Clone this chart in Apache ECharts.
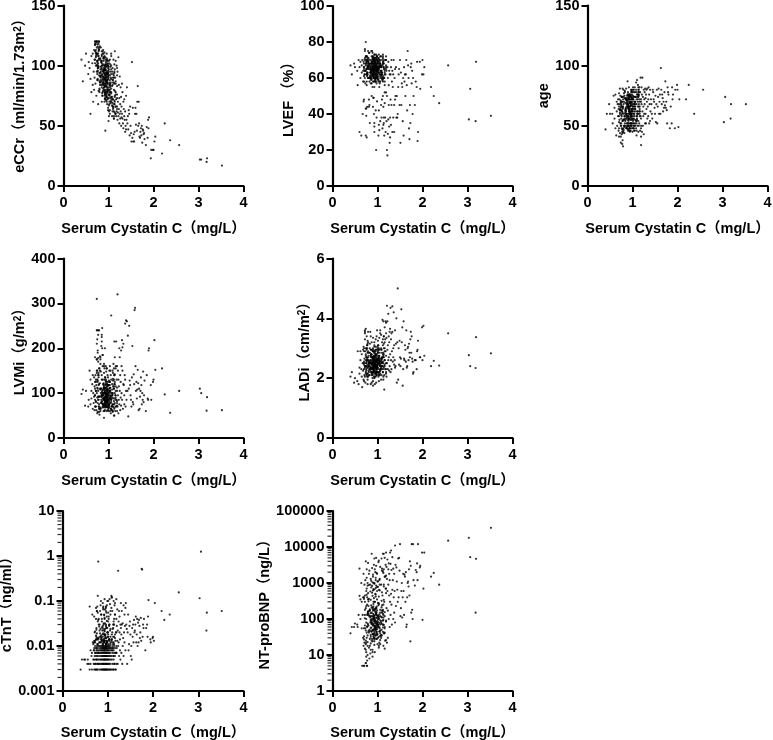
<!DOCTYPE html>
<html><head><meta charset="utf-8">
<script src="https://cdn.jsdelivr.net/npm/echarts@6/dist/echarts.min.js"></script>
<style>html,body{margin:0;padding:0;background:#fff}#c{width:773px;height:740px}</style></head>
<body><div id="c"></div>
<script>
const cystatin=[
3.52,3.19,3.18,3.06,3.03,2.57,2.37,2.25,2.19,2.04,2.02,2.00,1.99,1.95,1.94,1.90,1.89,1.88,1.87,1.85,
1.83,1.80,1.79,1.78,1.77,1.76,1.75,1.74,1.73,1.72,1.71,1.70,1.69,1.68,1.67,1.66,1.65,1.64,1.63,1.62,
1.61,1.60,1.59,1.58,1.57,1.56,1.55,1.54,1.53,1.52,1.51,1.50,1.49,1.48,1.47,1.46,1.45,1.44,1.43,1.42,
1.41,1.40,1.39,1.39,1.38,1.37,1.37,1.36,1.35,1.35,1.34,1.33,1.33,1.32,1.31,1.31,1.30,1.30,1.29,1.29,
1.28,1.28,1.27,1.27,1.26,1.26,1.25,1.25,1.24,1.24,1.23,1.23,1.22,1.22,1.21,1.21,1.20,1.20,1.19,1.19,
1.18,1.18,1.17,1.17,1.16,1.16,1.15,1.15,1.14,1.14,1.13,1.13,1.12,1.12,1.11,1.11,1.10,1.10,1.09,1.09,
.40,.43,.48,.50,.55,.56,.58,.60,.60,.62,.62,.64,.65,.65,.66,.67,.68,.68,.69,.69,
.70,.70,.71,.71,.72,.72,.73,.73,.74,.74,.75,.75,.76,.76,.77,.77,.78,.78,.79,.79,
1.16,1.12,1.08,1.06,1.04,1.02,1.00,.98,.97,.96,.94,.93,.92,.90,.89,.87,.85,.82,.78,.74,
1.19,1.14,1.10,1.05,1.03,1.01,.99,.97,.96,.95,.93,.91,.90,.88,.86,.84,.81,.79,.76,.72,
1.13,1.09,1.06,1.03,1.01,.99,.98,.96,.94,.93,.92,.91,.89,.87,.85,.83,.80,.77,.75,.70,
1.16,1.12,1.08,1.06,1.04,1.02,1.00,.98,.97,.96,.94,.93,.92,.90,.89,.87,.85,.82,.78,.74,
1.19,1.14,1.10,1.05,1.03,1.01,.99,.97,.96,.95,.93,.91,.90,.88,.86,.84,.81,.79,.76,.72,
1.13,1.09,1.06,1.03,1.01,.99,.98,.96,.94,.93,.92,.91,.89,.87,.85,.83,.80,.77,.75,.70,
1.16,1.12,1.08,1.06,1.04,1.02,1.00,.98,.97,.96,.94,.93,.92,.90,.89,.87,.85,.82,.78,.74,
1.19,1.14,1.10,1.05,1.03,1.01,.99,.97,.96,.95,.93,.91,.90,.88,.86,.84,.81,.79,.76,.72,
1.13,1.09,1.06,1.03,1.01,.99,.98,.96,.94,.93,.92,.91,.89,.87,.85,.83,.80,.77,.75,.70,
1.16,1.12,1.08,1.06,1.04,1.02,1.00,.98,.97,.96,.94,.93,.92,.90,.89,.87,.85,.82,.78,.74,
1.19,1.14,1.10,1.05,1.03,1.01,.99,.97,.96,.95,.93,.91,.90,.88,.86,.84,.81,.79,.76,.72,
1.13,1.09,1.06,1.03,1.01,.99,.98,.96,.94,.93,.92,.91,.89,.87,.85,.83,.80,.77,.75,.70,
1.16,1.12,1.08,1.06,1.04,1.02,1.00,.98,.97,.96,.94,.93,.92,.90,.89,.87,.85,.82,.78,.74,
1.19,1.14,1.10,1.05,1.03,1.01,.99,.97,.96,.95,.93,.91,.90,.88,.86,.84,.81,.79,.76,.72,
1.13,1.09,1.06,1.03,1.01,.99,.98,.96,.94,.93,.92,.91,.89,.87,.85,.83,.80,.77,.75,.70,
1.16,1.12,1.08,1.06,1.04,1.02,1.00,.98,.97,.96,.94,.93,.92,.90,.89,.87,.85,.82,.78,.74];
const eCCr=[
17,23,20,22,22,34,38,52,27,41,37,30,30,30,23,57,48,55,40,49,
34,39,44,43,46,47,36,50,42,48,45,40,41,52,70,50,83,70,46,60,
51,65,60,45,37,43,37,65,40,103,37,44,50,66,42,60,63,47,58,52,
82,55,47,75,50,62,45,55,72,58,64,48,70,52,78,56,60,85,66,57,
74,50,62,82,56,68,91,60,73,52,84,64,58,107,70,61,95,55,76,66,
62,100,72,58,85,66,90,60,112,74,68,95,56,80,65,105,72,88,62,98,
105,87,100,110,93,103,98,60,89,108,78,102,84,110,70,95,113,80,105,90,
105,112,85,118,100,108,75,120,95,110,120,88,104,116,68,98,112,79,120,92,
78,62,95,70,101,84,92,73,105,88,96,80,100,85,110,91,104,97,108,115,
92,70,66,86,78,104,65,93,82,99,77,108,88,95,75,103,84,113,95,120,
68,88,100,76,58,94,85,110,72,90,83,98,106,78,92,115,87,100,118,102,
104,58,83,74,95,68,90,101,79,93,87,46,97,82,106,89,112,91,99,120,
73,97,64,90,82,76,98,87,94,74,107,89,80,101,93,84,105,120,88,110,
85,66,78,60,97,89,72,83,103,91,78,96,86,110,70,99,94,108,101,117,
60,92,72,108,85,70,95,78,88,100,92,83,76,97,90,112,100,86,120,104,
98,75,86,69,92,80,63,102,90,76,85,111,94,81,100,87,116,106,96,113,
71,84,110,80,67,100,88,75,93,85,97,70,104,91,82,95,78,110,103,120,
87,56,74,93,78,86,99,81,68,104,90,88,73,107,96,85,102,94,118,100,
64,79,90,71,105,73,82,94,86,78,101,92,98,79,88,103,91,113,89,107,
101,69,77,84,62,91,104,70,97,83,75,89,95,86,109,92,80,99,110,118,
76,90,67,97,83,75,54,91,80,106,87,94,72,100,84,96,108,88,105,120,
83,61,93,73,88,102,79,86,95,71,99,82,90,113,77,104,86,115,98,111,
94,72,81,63,76,96,85,74,101,89,77,93,107,84,98,90,81,102,93,120,
66,86,58,89,99,80,93,100,77,92,84,105,79,96,87,75,97,106,114,109];
const LVEF=[
39,69,36,54,37,67,46,50,55,66,62,70,62,54,69,30,25,69,55,58,
45,50,60,40,64,57,68,66,35,45,26,32,60,67,75,42,56,70,62,50,
62,58,66,28,60,36,55,57,45,63,24,70,45,65,62,55,40,38,50,38,
66,50,48,65,60,45,30,70,38,62,55,64,30,58,45,70,34,66,62,48,
38,27,62,24,64,33,56,45,69,37,60,29,17,66,50,20,36,64,70,52,
30,62,70,38,65,52,28,60,68,35,44,66,72,58,32,67,48,63,38,62,
67,62,68,66,64,56,70,30,66,60,69,28,63,67,70,40,64,58,69,47,
66,68,62,70,75,60,64,57,67,43,72,65,69,56,62,44,70,66,75,60,
62,68,45,64,70,59,66,72,61,67,63,69,58,65,71,60,66,74,62,64,
66,60,70,57,65,68,61,73,64,67,55,62,69,75,63,66,60,68,65,71,
69,63,58,66,61,72,67,60,65,70,62,49,68,64,59,67,71,63,43,66,
58,71,64,60,68,63,70,57,66,62,73,65,61,68,55,69,64,60,67,72,
72,65,60,69,34,66,62,68,59,64,71,67,61,65,70,63,48,69,58,64,
61,67,70,63,59,65,38,71,68,60,66,62,74,64,57,70,67,61,72,65,
64,59,66,72,62,28,68,64,70,58,65,73,60,67,63,69,61,45,66,70,
67,70,62,58,73,64,60,66,62,69,30,63,71,65,68,60,74,66,62,76,
34,62,68,65,60,70,63,58,67,71,64,60,66,50,62,68,65,72,39,61,
63,50,72,61,66,58,69,65,62,68,60,35,64,70,66,59,63,67,71,28,
70,66,59,67,63,71,64,20,69,61,65,72,58,62,68,65,44,60,70,64,
60,64,67,42,69,62,66,70,60,33,68,64,72,57,65,61,69,63,68,48,
46,69,63,68,55,67,60,64,71,65,59,66,40,70,62,67,64,58,65,80,
65,38,60,66,70,64,72,62,67,60,69,49,65,61,75,63,68,70,27,62,
68,61,36,71,65,47,63,67,58,66,62,70,64,68,60,35,66,62,69,58,
56,73,66,62,31,69,65,60,68,42,67,63,70,44,66,72,60,65,63,68];
const age=[
68,68,56,74,53,80,60,84,72,72,49,80,84,80,48,76,72,82,52,66,
48,76,78,82,52,63,70,65,87,67,78,65,70,62,73,76,68,80,98,60,
76,70,60,81,74,66,52,80,68,53,75,60,65,70,72,78,80,56,60,68,
72,62,80,54,68,76,52,82,58,72,66,81,56,70,64,80,52,76,60,73,
81,52,68,78,60,72,43,80,58,66,74,50,90,62,76,45,68,82,41,72,
90,58,78,46,70,62,82,52,75,66,45,80,60,72,50,76,88,55,68,42,
47,60,68,60,60,52,75,56,65,48,76,42,70,62,50,68,58,72,46,64,
66,48,72,55,61,44,75,52,68,41,63,50,70,58,47,74,81,54,65,45,
72,60,78,55,68,50,64,74,58,70,48,66,62,76,52,60,72,56,44,65,
56,80,62,70,46,66,78,58,72,52,64,68,50,75,60,54,70,48,62,81,
82,52,70,60,75,62,48,68,56,74,66,50,72,58,64,78,46,60,67,41,
64,74,86,50,58,72,66,55,80,60,46,70,63,52,76,57,65,49,38,71,
48,68,60,78,64,54,73,62,50,69,76,58,66,48,72,61,55,33,74,63,
76,58,66,80,52,70,60,75,45,64,56,72,50,68,62,79,47,66,59,53,
60,84,54,64,74,48,68,52,78,57,70,62,75,46,55,66,73,50,61,69,
70,50,76,46,62,80,56,72,60,66,50,74,58,69,48,63,77,55,43,64,
54,72,64,68,58,76,50,60,70,48,82,56,65,71,60,52,74,35,66,58,
66,62,48,74,70,55,64,79,52,67,61,46,73,57,68,49,62,75,54,70,
34,78,58,66,52,72,62,50,76,58,69,64,47,70,81,55,60,72,48,63,
78,46,70,56,82,60,67,74,48,62,72,54,66,59,50,73,68,45,56,77,
62,66,74,52,60,78,45,64,70,55,60,76,52,67,87,48,72,58,64,50,
50,76,56,82,66,48,72,58,62,75,48,65,60,73,56,69,50,66,74,60,
74,54,68,48,72,62,80,52,66,60,76,50,71,48,64,58,80,62,52,68,
58,70,80,62,50,74,56,69,64,46,60,72,55,78,67,52,63,44,70,36];
const LVMi=[
62,91,61,100,110,105,56,97,155,152,218,130,125,85,118,200,195,85,88,140,
60,128,95,80,148,85,100,75,118,135,105,92,65,110,62,122,152,108,88,125,
105,160,290,285,120,142,75,80,205,135,70,85,95,118,128,250,110,48,228,105,
260,85,262,105,70,130,255,140,75,95,118,210,120,65,202,150,85,218,100,160,
195,72,125,90,62,140,180,105,75,200,115,85,130,55,150,95,320,70,112,160,
85,130,215,70,105,155,60,95,180,120,75,140,50,110,88,165,70,128,100,150,
98,108,72,105,70,85,150,130,75,105,88,120,65,140,100,78,135,92,62,115,
95,125,70,140,105,80,118,62,150,175,90,130,58,110,178,85,140,240,75,120,
95,110,72,130,88,105,65,118,92,80,125,100,75,115,85,160,95,108,70,145,
60,88,145,78,112,95,125,70,100,84,135,90,110,75,105,92,150,65,128,82,
120,75,273,160,68,108,85,115,74,95,102,60,88,130,78,100,92,140,55,110,
85,130,62,92,105,75,118,88,98,155,70,110,82,100,122,68,95,175,118,240,
72,100,115,65,90,128,78,105,84,112,92,155,72,108,96,85,182,70,195,130,
140,58,85,125,75,98,110,82,160,68,102,88,118,76,92,148,65,105,220,85,
90,115,70,100,150,82,95,62,108,125,78,98,200,85,112,70,130,165,92,175,
105,78,132,55,88,118,74,100,90,148,84,110,68,96,245,80,122,58,190,105,
65,96,85,110,72,135,105,78,92,120,62,88,100,75,140,110,52,230,150,70,
160,82,120,70,102,90,60,115,80,98,128,72,105,160,88,185,95,68,135,210,
78,142,60,94,118,72,86,108,155,76,100,90,45,120,82,205,110,240,78,125,
50,100,88,125,68,82,140,95,70,112,86,130,75,102,225,65,155,92,112,180,
115,68,108,80,95,150,75,85,104,60,92,118,82,145,72,98,215,180,85,310,
82,125,75,140,60,100,92,120,72,88,106,78,165,94,200,110,66,155,125,70,
215,90,65,105,85,118,70,96,130,82,74,112,60,185,102,78,92,170,240,95,
70,155,95,62,112,78,102,88,68,120,98,80,135,72,108,88,230,60,145,100];
const LADi=[
2.83,3.37,2.34,2.40,2.77,3.50,2.42,2.58,2.40,2.75,3.75,2.60,3.70,2.70,2.70,3.25,2.95,2.90,2.30,2.60,
2.6,2.2,2.15,2.55,2.65,3.4,2.85,3.55,3.3,2.7,2.85,3.15,2.6,3.05,3.0,2.4,2.35,3.6,2.55,2.95,
3.1,2.6,2.65,3.9,2.3,1.75,3.7,3.2,4.3,2.65,2.4,2.7,3.25,2.45,3.0,1.95,5.0,3.2,1.85,4.0,
3.15,2.4,2.35,3.6,2.6,3.1,2.45,4.2,2.7,3.0,2.55,3.55,4.4,2.9,3.5,2.3,3.3,2.6,4.35,2.2,
3.65,2.8,2.4,3.55,3.2,2.25,3.4,2.7,4.15,2.6,3.1,2.3,3.9,2.95,4.42,2.5,3.35,2.05,3.85,2.75,
2.9,3.9,2.3,3.3,2.6,3.0,2.1,1.62,3.4,2.8,2.5,3.9,3.1,2.2,2.7,3.95,2.4,3.2,2.95,2.65,
2.05,2.2,1.85,2.0,1.9,2.9,1.8,2.35,2.15,2.9,2.6,2.3,2.05,2.8,1.7,2.5,2.95,2.25,3.05,1.95,
2.3,3.0,2.65,2.1,3.55,2.4,1.85,2.9,3.65,2.2,2.7,2.5,3.4,2.95,2.05,3.1,1.8,2.6,2.35,3.2,
2.6,2.3,3.0,2.45,2.2,2.7,2.5,2.35,2.8,2.15,2.55,2.4,2.65,2.9,2.3,2.5,2.75,2.1,2.45,2.6,
2.2,2.7,2.4,2.85,2.55,2.3,2.65,2.95,2.05,2.45,2.7,2.25,2.5,2.35,2.8,2.6,2.2,2.9,2.4,2.05,
2.75,2.5,2.15,2.6,3.1,2.4,2.2,2.55,2.7,2.9,2.35,2.6,2.1,2.45,2.75,2.3,2.55,2.35,3.0,2.5,
2.4,3.3,2.6,2.25,2.75,2.5,3.0,2.1,2.4,2.6,2.85,2.0,2.55,2.7,2.45,2.2,2.95,2.5,1.95,2.8,
3.5,2.35,2.85,2.55,2.1,2.65,2.45,2.7,2.3,2.5,2.15,2.75,2.4,2.95,2.6,2.35,2.1,2.7,2.55,3.3,
2.05,2.65,2.3,2.95,2.5,2.2,2.8,2.4,2.6,3.2,2.45,2.3,2.7,2.15,2.55,2.85,2.4,3.1,2.25,1.9,
2.9,2.2,3.45,2.4,2.7,3.1,2.35,2.55,2.15,2.75,2.5,2.9,2.25,2.6,2.0,2.45,2.7,2.3,2.85,2.15,
2.5,3.0,2.7,2.1,2.45,2.85,2.6,2.2,2.95,2.35,2.05,2.65,3.35,2.5,2.8,2.25,2.4,3.55,2.6,2.35,
1.95,2.55,2.25,2.75,3.25,2.4,2.1,2.65,2.5,2.2,2.85,2.45,2.7,1.85,2.35,3.0,2.6,2.15,2.5,2.9,
3.7,2.4,2.95,2.3,2.6,2.15,2.75,3.4,2.35,2.55,2.25,3.05,2.45,2.65,2.2,2.8,1.8,2.55,3.25,2.4,
2.3,3.15,2.5,2.65,1.9,2.9,2.4,2.15,2.6,2.8,2.35,2.55,1.75,2.7,2.95,2.3,2.5,2.85,2.1,3.5,
2.7,2.1,3.6,2.2,2.85,2.55,2.3,3.05,2.45,2.7,2.6,2.2,2.9,2.35,2.5,3.15,2.25,2.65,3.0,2.45,
3.2,2.55,2.35,3.5,2.45,2.05,2.95,2.6,2.2,3.3,2.5,2.75,2.4,1.9,2.65,2.3,3.4,2.5,2.15,2.75,
2.15,3.4,2.65,2.5,2.95,2.35,2.6,1.85,2.8,2.4,3.1,2.3,2.55,2.7,2.2,3.55,2.45,2.05,2.7,3.6,
2.85,2.3,2.55,3.0,2.2,3.6,2.45,2.75,2.35,2.05,2.6,2.95,2.15,3.2,2.5,2.4,2.75,3.0,2.3,2.55,
2.45,2.8,1.95,2.4,3.35,2.65,3.05,2.25,2.55,2.9,1.8,2.45,2.6,3.0,2.35,2.1,2.55,2.85,3.15,2.4];
const cTnT=[
.06,.055,.022,1.25,.115,.155,.05,.038,.06,.09,.013,.016,.015,.012,.014,.105,.045,.016,.03,.025,
.008,.04,.025,.03,.016,.5,.52,.013,.042,.02,.015,.028,.038,.012,.033,.01,.04,.018,.012,.045,
.03,.022,.02,.038,.012,.03,.016,.025,.005,.01,.006,.018,.035,.028,.011,.008,.05,.02,.004,.024,
.03,.09,.07,.008,.028,.05,.012,.02,.006,.08,.015,.032,.01,.004,.03,.06,.018,.007,.09,.025,
.005,.03,.014,.008,.045,.02,.006,.06,.012,.035,.47,.01,.004,.022,.065,.013,.009,.028,.007,.04,
.003,.02,.013,.007,.05,.018,.004,.08,.011,.03,.006,.1,.016,.003,.009,.024,.06,.008,.12,.014,
.003,.005,.005,.005,.004,.005,.004,.003,.075,.004,.008,.006,.003,.007,.05,.012,.005,.011,.004,.008,
.003,.009,.006,.02,.004,.012,.003,.007,.04,.005,.016,.009,.003,.06,.006,.014,.004,.13,.007,.75,
.003,.003,.003,.003,.003,.003,.003,.003,.003,.003,.003,.003,.003,.003,.003,.003,.003,.003,.003,.003,
.004,.004,.004,.004,.004,.004,.004,.004,.004,.004,.004,.004,.004,.004,.004,.004,.004,.004,.004,.004,
.005,.005,.005,.005,.005,.005,.005,.005,.005,.005,.005,.005,.005,.005,.005,.005,.005,.005,.005,.005,
.006,.006,.006,.006,.006,.006,.006,.006,.006,.006,.006,.006,.006,.006,.006,.006,.006,.006,.006,.006,
.007,.007,.007,.007,.007,.007,.007,.007,.007,.007,.007,.007,.007,.007,.007,.007,.007,.007,.007,.007,
.008,.008,.008,.008,.008,.008,.008,.008,.008,.008,.008,.008,.008,.008,.008,.008,.008,.008,.008,.008,
.009,.009,.009,.009,.009,.009,.009,.009,.009,.009,.009,.009,.009,.009,.009,.009,.009,.009,.009,.009,
.01,.01,.01,.01,.01,.01,.01,.01,.01,.01,.01,.01,.01,.01,.01,.01,.01,.01,.01,.01,
.012,.014,.011,.013,.016,.012,.011,.015,.013,.018,.012,.014,.011,.013,.017,.012,.015,.011,.014,.013,
.015,.011,.013,.012,.014,.011,.016,.012,.013,.011,.015,.012,.014,.019,.011,.013,.012,.016,.011,.014,
.02,.016,.012,.022,.014,.018,.013,.025,.011,.016,.021,.013,.012,.018,.015,.024,.012,.014,.019,.013,
.03,.018,.024,.014,.035,.02,.012,.028,.017,.022,.013,.032,.016,.026,.014,.019,.04,.015,.023,.012,
.05,.025,.07,.016,.03,.045,.02,.036,.015,.06,.024,.04,.018,.075,.028,.014,.05,.022,.035,.017,
.11,.04,.02,.085,.03,.055,.1,.026,.07,.018,.042,.03,.065,.022,.05,.08,.027,.038,.06,.021,
.035,.12,.06,.028,.1,.025,.045,.075,.032,.11,.05,.023,.09,.035,.016,.06,.03,.075,.025,.045,
.09,.03,.13,.05,.11,.04,.02,.08,.055,.03,.065,.018,.048,.07,.025,.04,.1,.03,.055,.07];
const NTproBNP=[
34000,4700,150,5200,18000,15000,900,1900,1500,7000,700,95,7000,3000,2700,12000,1200,3500,2000,2300,
850,1200,12000,100,180,12000,150,3000,24,4000,450,2400,800,1100,1000,400,70,60,2000,300,
1500,1700,130,600,1800,400,110,1000,600,200,120,12000,2200,5000,400,4800,300,650,1100,2700,
230,3200,11000,80,600,1800,150,400,2500,100,1200,650,5200,70,250,2300,500,8000,130,3400,
300,7000,1200,60,450,1800,3500,100,900,2400,170,30,600,4500,1300,22,200,2800,90,7000,
700,3200,25,1500,120,5000,300,40,2400,900,18,1900,180,6500,70,450,2200,110,4800,35,
40,60,60,75,70,60,130,440,2500,100,350,1000,55,300,5,130,400,30,1800,18,
5,400,22,900,130,15,1200,55,200,14,600,80,2400,30,250,5,1000,18,350,70,
60,90,35,150,45,110,70,28,130,55,85,40,180,65,100,25,120,50,75,20,
85,40,170,55,100,30,75,140,48,95,65,220,38,120,58,80,16,160,42,105,
110,50,70,32,125,80,45,190,60,35,105,75,50,150,88,28,65,130,12,55,
42,140,88,20,60,115,38,72,200,52,90,44,130,68,24,100,56,170,35,6,
700,800,550,900,650,780,600,850,720,500,950,680,620,830,750,580,880,520,700,450,
250,320,180,420,280,350,220,480,300,190,380,260,440,210,340,170,310,400,230,360,
1500,2100,900,2800,1200,3800,1100,1900,5000,1400,2400,1000,3200,1700,1050,6500,1300,2200,850,4000,
1600,6500,2500,1300,4200,1100,1800,3000,1200,2000,4800,1000,1500,2600,1150,900,1800,3600,1400,300,
130,75,48,105,62,36,155,82,52,120,30,70,210,44,95,18,140,60,9,33,
55,165,30,92,22,70,125,40,85,58,175,27,110,48,14,78,36,8,145,25,
26,68,240,45,16,100,60,135,34,75,19,50,115,28,88,11,42,160,5,66,
70,35,120,18,82,52,28,150,64,24,98,38,12,74,32,185,46,7,22,5,
15,44,80,26,135,58,20,66,108,37,12,55,30,90,9,47,14,125,23,6,
520,340,150,620,260,120,780,200,420,160,660,300,140,540,240,110,360,130,470,180,
95,210,40,270,68,175,110,52,300,85,125,33,190,72,145,46,230,62,100,27,
155,58,115,34,78,240,90,43,135,62,29,105,50,170,38,80,21,118,10,48];
const xTicks=[0,1,2,3,4];
const minorCTnT=[.002,.003,.004,.005,.006,.007,.008,.009,.02,.03,.04,.05,.06,.07,.08,.09,.2,.3,.4,.5,.6,.7,.8,.9,2,3,4,5,6,7,8,9];
const minorNT=[2,3,4,5,6,7,8,9,20,30,40,50,60,70,80,90,200,300,400,500,600,700,800,900,2000,3000,4000,5000,6000,7000,8000,9000,20000,30000,40000,50000,60000,70000,80000,90000];
const FONT='"Liberation Sans","Noto Sans CJK SC",sans-serif';
const xName='Serum Cystatin C（mg/L）';
const panels=[
 {y:eCCr,name:'{a|eCCr（ml/min/1.73m}{s|2}{a|）}',max:150,min:0,interval:50,g:[63.5,5.5,180,180.5],gap:31,xgap:36,pad:[0,0,0,7]},
 {y:LVEF,name:'{a|LVEF （%）}',max:100,min:0,interval:20,g:[332.5,6,180,180],gap:33,xgap:36},
 {y:age,name:'{a|age}',max:150,min:0,interval:50,g:[587.5,5.5,180,180.5],gap:36.5,xgap:36},
 {y:LVMi,name:'{a|LVMi（g/m}{s|2}{a|）}',max:400,min:0,interval:100,g:[63.5,258.5,180,179.5],gap:34.5,xgap:36},
 {y:LADi,name:'{a|LADi（cm/m}{s|2}{a|）}',max:6,min:0,interval:2,g:[332.5,258.5,180,179.5],gap:20.5,xgap:36},
 {y:cTnT,name:'{a|cTnT（ng/ml）}',max:10,min:.001,log:true,minor:minorCTnT,g:[62.5,511,181,180],gap:44,xgap:35},
 {y:NTproBNP,name:'{a|NT-proBNP（ng/L）}',max:100000,min:1,log:true,minor:minorNT,g:[332.5,511,180,180],gap:58.5,xgap:35}
];
const axisCommon={axisLine:{show:true,onZero:false,lineStyle:{color:'#000',width:2.2}},
 axisTick:{show:true,length:6,lineStyle:{color:'#000',width:2}},splitLine:{show:false},minorSplitLine:{show:false}};
const lab={color:'#000',fontFamily:FONT,fontWeight:'bold',fontSize:14.5};
const option={animation:false,backgroundColor:'#fff',grid:[],xAxis:[],yAxis:[],series:[]};
panels.forEach((p,i)=>{
 option.grid.push({left:p.g[0],top:p.g[1],width:p.g[2],height:p.g[3],outerBoundsMode:'none'});
 option.xAxis.push({...axisCommon,gridIndex:i,type:'value',min:0,max:4,interval:1,
  axisLabel:{...lab,margin:10,showMinLabel:true,showMaxLabel:true,customValues:xTicks},name:xName,nameLocation:'middle',nameGap:p.xgap,
  nameTextStyle:{...lab}});
 option.yAxis.push({...axisCommon,gridIndex:i,type:p.log?'log':'value',min:p.min,max:p.max,
  ...(p.log?{logBase:10}:{interval:p.interval}),
  axisLabel:{...lab,margin:8,showMinLabel:true,showMaxLabel:true,formatter:v=>String(+(+v).toPrecision(3))},
  name:p.name,nameLocation:'middle',nameGap:p.gap,nameRotate:90,
  nameTextStyle:{...lab,...(p.pad?{padding:p.pad}:{}),rich:{a:{...lab},s:{...lab,fontSize:10,verticalAlign:'top',lineHeight:14}}}});
 option.series.push({type:'scatter',xAxisIndex:i,yAxisIndex:i,symbol:'circle',symbolSize:2.2,silent:true,
  itemStyle:{color:'#000'},clip:false,large:false,data:cystatin.map((x,k)=>[x,p.y[k]]).filter(d=>d[1]!==undefined)});
 if(p.minor){option.series.push({type:'scatter',xAxisIndex:i,yAxisIndex:i,silent:true,clip:false,
  symbol:'rect',symbolSize:[4,1.2],symbolOffset:[-3,0],itemStyle:{color:'#000'},
  data:p.minor.map(v=>[0,v])});}
});
echarts.init(document.getElementById('c'),null,{renderer:'canvas'}).setOption(option);
</script></body></html>
